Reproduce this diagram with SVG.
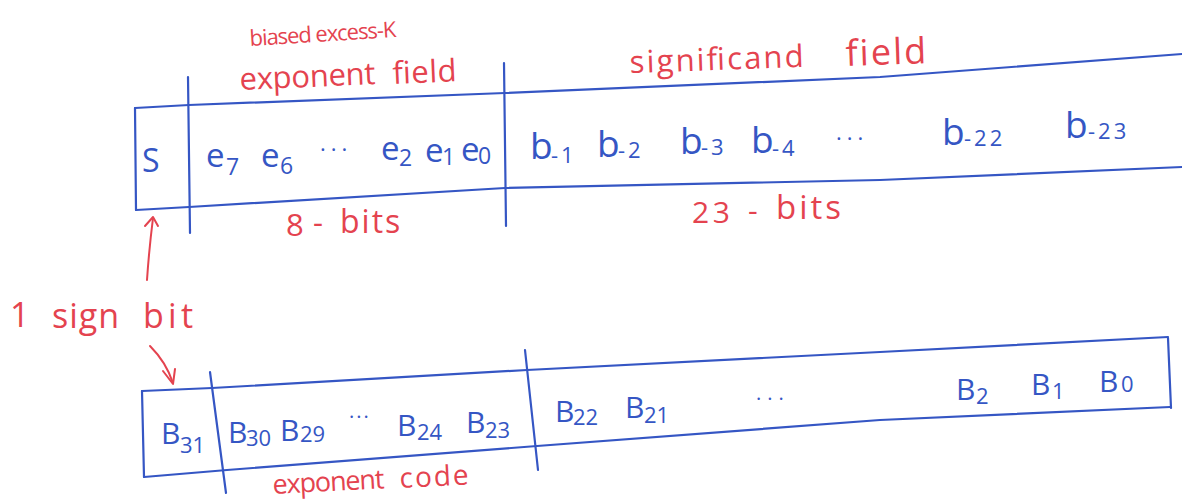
<svg xmlns="http://www.w3.org/2000/svg" width="1182" height="502" viewBox="0 0 1182 502">
<style>
.ln{fill:none;stroke:#3556c4;stroke-width:2.2;stroke-linecap:round;stroke-linejoin:round}
.ar{fill:none;stroke:#e4434f;stroke-width:2;stroke-linecap:round;stroke-linejoin:round}
.bt{font-family:"Open Sans","Liberation Sans",sans-serif;fill:#3556c4}
.rt{font-family:"Open Sans","Liberation Sans",sans-serif;fill:#e4434f}
.m{font-size:33px}
.s{font-size:23px}
.bm{font-size:37px}
.bsub{font-size:22px;letter-spacing:3px}
.bb{font-size:30px}
.bs{font-size:22px}
.dots{font-size:22px;letter-spacing:5px}
</style>
<rect width="1182" height="502" fill="#ffffff"/>

<g id="top-register">
  <path class="ln" d="M135,108 L136,210"/>
  <path class="ln" d="M135,108 L189,105 L505,93 L880,77 L1182,54"/>
  <path class="ln" d="M136,210 L189,207 L505,188 L880,180 L1182,167"/>
  <path class="ln" d="M188,77 L190,233"/>
  <path class="ln" d="M504,63 L506,226"/>
</g>

<g id="labels-top">
  <text class="rt" x="250" y="46" font-size="22" textLength="147" transform="rotate(-3.5 250 46)">biased excess-K</text>
  <text class="rt" x="240" y="90" font-size="31" textLength="136" transform="rotate(-2.5 240 90)">exponent</text>
  <text class="rt" x="393" y="84" font-size="31" textLength="64" transform="rotate(-2.5 393 84)">field</text>
  <text class="rt" x="630" y="73" font-size="31" textLength="174" transform="rotate(-2 630 73)">significand</text>
  <text class="rt" x="846" y="66" font-size="36" letter-spacing="2" transform="rotate(-2 846 66)">field</text>
  <text class="rt" x="286" y="236" font-size="31">8</text>
  <text class="rt" x="313" y="233" font-size="31">-</text>
  <text class="rt" x="340" y="233" font-size="32" letter-spacing="2">bits</text>
  <text class="rt" x="692" y="223" font-size="30" textLength="38">23</text>
  <text class="rt" x="748" y="221" font-size="30">-</text>
  <text class="rt" x="776" y="219" font-size="33" letter-spacing="3">bits</text>
</g>

<g id="cell-sign">
  <text class="bt" x="142" y="172" font-size="32">S</text>
</g>

<g id="cell-exponent">
  <text class="bt m" x="206" y="167">e</text><text class="bt s" x="226" y="175">7</text>
  <text class="bt m" x="261" y="167">e</text><text class="bt s" x="280" y="174">6</text>
  <text class="bt dots" x="320" y="157">···</text>
  <text class="bt m" x="381" y="160">e</text><text class="bt s" x="399" y="166">2</text>
  <text class="bt m" x="425" y="162">e</text><text class="bt s" x="442" y="165">1</text>
  <text class="bt m" x="461" y="161">e</text><text class="bt s" x="478" y="164">0</text>
</g>

<g id="cell-significand">
  <text class="bt bm" x="530" y="159">b</text><text class="bt bsub" x="551" y="163">-1</text>
  <text class="bt bm" x="597" y="157">b</text><text class="bt bsub" x="618" y="158">-2</text>
  <text class="bt bm" x="680" y="154">b</text><text class="bt bsub" x="701" y="155">-3</text>
  <text class="bt bm" x="751" y="153">b</text><text class="bt bsub" x="772" y="156">-4</text>
  <text class="bt dots" x="836" y="146">···</text>
  <text class="bt bm" x="942" y="145">b</text><text class="bt bsub" x="964" y="146">-22</text>
  <text class="bt bm" x="1065" y="138">b</text><text class="bt bsub" x="1088" y="139">-23</text>
</g>

<g id="label-sign-bit">
  <text class="rt" x="10" y="327" font-size="34">1</text>
  <text class="rt" x="52" y="328" font-size="34" textLength="67">sign</text>
  <text class="rt" x="143" y="328" font-size="34" textLength="50">bit</text>
</g>

<g id="bottom-register">
  <path class="ln" d="M142,391 L144,477"/>
  <path class="ln" d="M142,391 L212,388 L527,370 L880,352 L1168,337"/>
  <path class="ln" d="M144,477 L227,470 L537,446 L880,420 L1170,407"/>
  <path class="ln" d="M1168,338 L1171,408"/>
  <path class="ln" d="M210,372 L226,493"/>
  <path class="ln" d="M525,350 L538,470"/>
</g>

<g id="cell-b31">
  <text class="bt bb" x="161" y="444">B</text><text class="bt bs" x="180" y="453">31</text>
</g>

<g id="cell-exponent-code">
  <text class="bt bb" x="228" y="443">B</text><text class="bt bs" x="246" y="446">30</text>
  <text class="bt bb" x="280" y="441">B</text><text class="bt bs" x="300" y="442">29</text>
  <text class="bt" x="349" y="424" font-size="20" letter-spacing="2">···</text>
  <text class="bt bb" x="397" y="436">B</text><text class="bt bs" x="417" y="440">24</text>
  <text class="bt bb" x="466" y="433">B</text><text class="bt bs" x="485" y="438">23</text>
  <text class="rt" x="273" y="494" font-size="27" textLength="112" transform="rotate(-3 273 494)">exponent</text>
  <text class="rt" x="400" y="488" font-size="28" letter-spacing="2" transform="rotate(-3 400 488)">code</text>
</g>

<g id="cell-fraction">
  <text class="bt bb" x="555" y="422">B</text><text class="bt bs" x="573" y="425">22</text>
  <text class="bt bb" x="625" y="418">B</text><text class="bt bs" x="644" y="423">21</text>
  <text class="bt" x="756" y="406" font-size="20" letter-spacing="6">···</text>
  <text class="bt bb" x="956" y="400">B</text><text class="bt bs" x="976" y="404">2</text>
  <text class="bt bb" x="1031" y="395">B</text><text class="bt bs" x="1052" y="399">1</text>
  <text class="bt bb" x="1099" y="392">B</text><text class="bt bs" x="1121" y="392">0</text>
</g>

<g id="connectors">
  <path class="ar" d="M147,280 Q149,250 153,218"/>
  <path class="ar" d="M145,226 L153,217 L158,226"/>
  <path class="ar" d="M150,346 Q166,362 173,383"/>
  <path class="ar" d="M163,371 L173,384 L175,369"/>
</g>
</svg>
